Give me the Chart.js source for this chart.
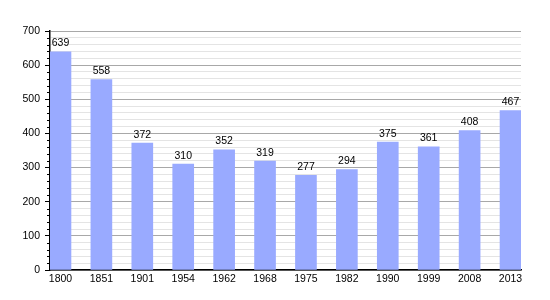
<!DOCTYPE html>
<html>
<head>
<meta charset="utf-8">
<script src="https://cdn.jsdelivr.net/npm/chart.js@4/dist/chart.umd.min.js"></script>
<style>
html,body{margin:0;padding:0;background:#fff;}
#wrap{width:550px;height:300px;position:relative;}
</style>
</head>
<body>
<div id="wrap"><canvas id="c" width="550" height="300"></canvas></div>
<script>
const years = ['1800','1851','1901','1954','1962','1968','1975','1982','1990','1999','2008','2013'];
const population = [639, 558, 372, 310, 352, 319, 277, 294, 375, 361, 408, 467];
const yTicksMajor = [0, 100, 200, 300, 400, 500, 600, 700];

const FONT = {family: '"Liberation Sans", Arial, sans-serif', size: 10.5};

const valueLabels = {
  id: 'valueLabels',
  afterDatasetsDraw(chart) {
    const ctx = chart.ctx;
    const meta = chart.getDatasetMeta(0);
    ctx.save();
    ctx.fillStyle = '#000';
    ctx.font = FONT.size + 'px ' + FONT.family;
    ctx.textAlign = 'center';
    ctx.textBaseline = 'bottom';
    meta.data.forEach((bar, i) => {
      ctx.fillText(String(population[i]), bar.x, bar.y - 3);
    });
    ctx.restore();
  }
};

const minorTicks = {
  id: 'minorTicks',
  afterDraw(chart) {
    const y = chart.scales.y;
    const ctx = chart.ctx;
    ctx.save();
    ctx.strokeStyle = '#000';
    ctx.lineWidth = 1;
    y.ticks.forEach(t => {
      if (t.value % 100 !== 0) {
        const py = Math.round(y.getPixelForValue(t.value)) + 0.5;
        ctx.beginPath();
        ctx.moveTo(y.right - 3, py);
        ctx.lineTo(y.right, py);
        ctx.stroke();
      }
    });
    ctx.restore();
  }
};

new Chart(document.getElementById('c'), {
  type: 'bar',
  data: {
    datasets: [{
      data: population.map((v, i) => ({x: i, y: v})),
      backgroundColor: '#99aaff',
      borderWidth: 0,
      barThickness: 21
    }]
  },
  options: {
    responsive: false,
    animation: false,
    layout: {padding: {top: 31, right: 29, left: 0, bottom: 0}},
    plugins: {legend: {display: false}, tooltip: {enabled: false}},
    scales: {
      x: {
        type: 'linear',
        offset: false,
        min: -0.256,
        max: 11.256,
        afterBuildTicks(scale) { scale.ticks = years.map((_, i) => ({value: i})); },
        afterFit(scale) { scale.height = 30; },
        grid: {display: false, drawTicks: false, offset: false},
        border: {display: true, color: '#000', width: 1.5},
        ticks: {
          color: '#000',
          font: FONT,
          padding: 3,
          maxRotation: 0,
          autoSkip: false,
          callback: (v) => years[v]
        }
      },
      y: {
        min: 0,
        max: 700,
        afterFit(scale) { scale.width = 50; },
        grid: {
          color: (c) => (c.tick && c.tick.value % 100 === 0) ? '#a8a8a8' : '#e4e4e4',
          tickColor: (c) => (c.tick && c.tick.value % 100 === 0) ? '#000' : 'rgba(0,0,0,0)',
          tickLength: 5,
          lineWidth: 1
        },
        border: {display: true, color: '#000', width: 1.5},
        ticks: {
          stepSize: 20,
          color: '#000',
          font: FONT,
          padding: 5,
          autoSkip: false,
          callback: (v) => yTicksMajor.includes(v) ? String(v) : ''
        }
      }
    }
  },
  plugins: [valueLabels, minorTicks]
});
</script>
</body>
</html>
